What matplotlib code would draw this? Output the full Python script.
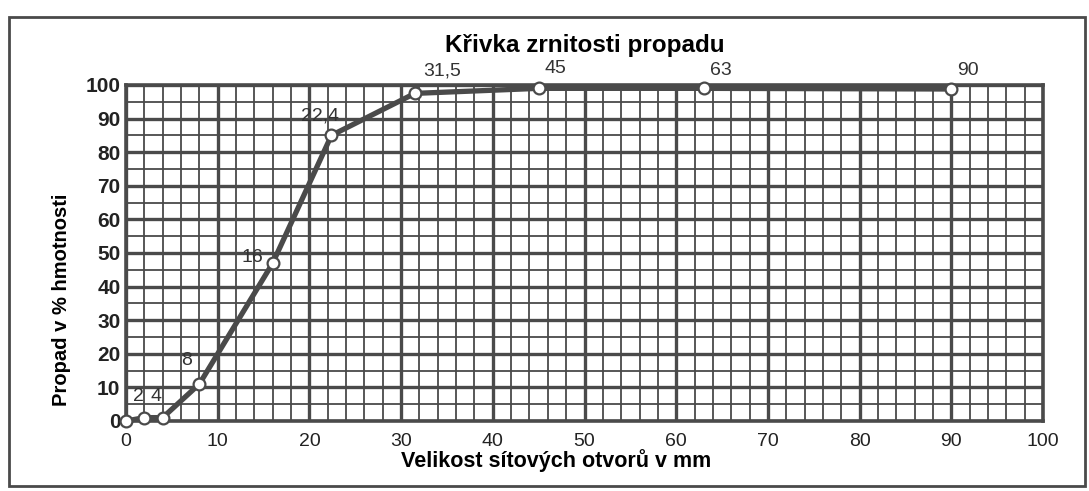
import matplotlib
matplotlib.use('Agg')
import matplotlib.pyplot as plt
from matplotlib.patches import Rectangle
import numpy as np

# sieve sizes (mm) and passing (%)
sieve = [0, 2, 4, 8, 16, 22.4, 31.5, 45, 63, 90]
passing = [0, 1, 1, 11, 47, 85, 97.5, 99, 99, 98.8]
point_labels = ['', '2', '4', '8', '16', '22,4', '31,5', '45', '63', '90']

plt.rcParams['font.family'] = ['Liberation Sans', 'DejaVu Sans']
dark = '#4a4a4a'

fig = plt.figure(figsize=(10.89, 4.91), dpi=100)
ax = fig.add_axes([0.1157, 0.1426, 0.8421, 0.6843])

ax.set_xlim(0, 100)
ax.set_ylim(0, 100)
ax.set_xticks(np.arange(0, 101, 10))
ax.set_yticks(np.arange(0, 101, 10))
ax.set_xticks(np.arange(0, 101, 2), minor=True)
ax.set_yticks(np.arange(0, 101, 5), minor=True)
ax.grid(which='major', color=dark, linewidth=2.4)
ax.grid(which='minor', color=dark, linewidth=1.3)
ax.tick_params(which='both', length=0, colors='#222222')
ax.tick_params(axis='x', labelsize=14, pad=9)
ax.tick_params(axis='y', labelsize=15, pad=4)
for lbl in ax.get_yticklabels():
    lbl.set_fontweight('bold')
for s in ax.spines.values():
    s.set_color(dark)
    s.set_linewidth(2.6)

ax.plot(sieve, passing, color=dark, linewidth=3.8, marker='o', markersize=8.5,
        markerfacecolor='white', markeredgecolor=dark, markeredgewidth=1.6,
        clip_on=False, zorder=5)

# labels next to the points
offsets = {'2': (-4, 9), '4': (-5, 9), '8': (-9, 11), '16': (-15, -2),
           '22,4': (-8, 8), '31,5': (20, 10), '45': (12, 8),
           '63': (12, 7), '90': (12, 7)}
for x, y, t in zip(sieve, passing, point_labels):
    if not t:
        continue
    dx, dy = offsets[t]
    ax.annotate(t, (x, y), xytext=(dx, dy), textcoords='offset points',
                ha='center', va='bottom', fontsize=14, color='#333333',
                annotation_clip=False, zorder=6)

ax.set_title('Křivka zrnitosti propadu', fontsize=17.5, fontweight='bold', pad=24)
ax.set_xlabel('Velikost sítových otvorů v mm', fontsize=15.5, fontweight='bold',
              va='center')
ax.xaxis.set_label_coords(0.469, -0.118)
ax.set_ylabel('Propad v % hmotnosti', fontsize=14.5, fontweight='bold', va='center')
ax.yaxis.set_label_coords(-0.07, 0.36)

# outer frame around the chart
fig.patches.append(Rectangle((0.008, 0.01), 0.988, 0.955, transform=fig.transFigure,
                             fill=False, edgecolor=dark, linewidth=2))

fig.savefig('out.png', dpi=100)
